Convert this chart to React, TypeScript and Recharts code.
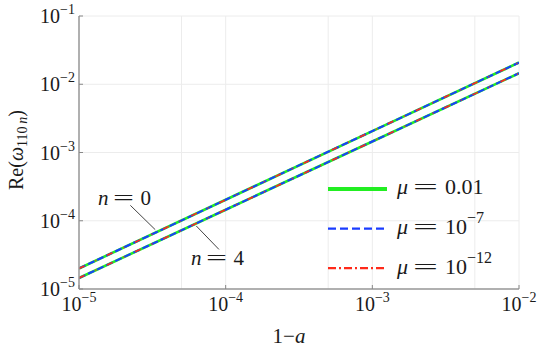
import React from 'react';
import {
  LineChart,
  Line,
  XAxis,
  YAxis,
  CartesianGrid,
  ReferenceLine,
} from 'recharts';

const FONT = '"Liberation Serif", "DejaVu Serif", serif';

// 1 - a (log axis)
const xValues = [1e-5, 1e-4, 1e-3, 1e-2];
const xTicks = [1e-5, 1e-4, 1e-3, 1e-2];
const yTicks = [1e-5, 1e-4, 1e-3, 1e-2, 1e-1];
const minorXGrid = [5e-5, 5e-4, 5e-3];

// Re(omega_110n), n = 0 and n = 4, per mu
const muA_n0 = [2.0e-5, 2.03e-4, 2.06e-3, 2.08e-2];
const muA_n4 = [1.45e-5, 1.45e-4, 1.45e-3, 1.45e-2];
const muB_n0 = [2.0e-5, 2.03e-4, 2.06e-3, 2.08e-2];
const muB_n4 = [1.45e-5, 1.45e-4, 1.45e-3, 1.45e-2];
const muC_n0 = [2.0e-5, 2.03e-4, 2.06e-3, 2.08e-2];
const muC_n4 = [1.45e-5, 1.45e-4, 1.45e-3, 1.45e-2];

// leader lines for the n labels (data coords)
const leaderN0 = [{ x: 2.24e-5, y: 1.68e-4 }, { x: 3.31e-5, y: 7.4e-5 }];
const leaderN4 = [{ x: 6.3e-5, y: 8.4e-5 }, { x: 9.0e-5, y: 3.8e-5 }];

const data = xValues.map((x, i) => ({
  x,
  a0: muA_n0[i],
  a4: muA_n4[i],
  b0: muB_n0[i],
  b4: muB_n4[i],
  c0: muC_n0[i],
  c4: muC_n4[i],
}));

const sup = (v: number) => '\u2212' + Math.abs(Math.round(Math.log10(v)));

const XTick = ({ x, y, payload }: any) => (
  <g>
    <line x1={x} x2={x} y1={y} y2={y - 4} stroke="#888" />
    <text x={x} y={y + 22} textAnchor="middle" style={{ fontFamily: FONT }} fontSize={20} fill="#1a1a1a">
      10
      <tspan dy={-9} fontSize={14}>{sup(payload.value)}</tspan>
    </text>
  </g>
);

const YTick = ({ x, y, payload }: any) => (
  <g>
    <line x1={x} x2={x + 4} y1={y} y2={y} stroke="#888" />
    <text x={x - 4} y={y + 7} textAnchor="end" style={{ fontFamily: FONT }} fontSize={20} fill="#1a1a1a">
      10
      <tspan dy={-9} fontSize={14}>{sup(payload.value)}</tspan>
    </text>
  </g>
);

const legendItems = [
  { label: '0.01', exp: '', color: '#22ee22', width: 4, dash: undefined },
  { label: '10', exp: '\u22127', color: '#1a3cff', width: 2.2, dash: '8 4' },
  { label: '10', exp: '\u221212', color: '#ff2a1a', width: 2.2, dash: '8 3 2 3' },
];

// "n = k" style label with a wide equals sign
const EqLabel = ({ x, y, sym, val, size, eqW }: any) => (
  <text x={x} y={y} fontSize={size} fill="#1a1a1a">
    <tspan fontStyle="italic">{sym}</tspan>
    <tspan x={x + size * 0.72} textLength={eqW} lengthAdjust="spacingAndGlyphs">=</tspan>
    <tspan x={x + size * 0.72 + eqW + size * 0.3}>{val}</tspan>
  </text>
);

export default function App() {
  return (
    <div style={{ position: 'absolute', left: 0, top: 0, width: 545, height: 352, background: '#fff', fontFamily: FONT }}>
      <LineChart width={545} height={352} data={data} margin={{ top: 16, right: 26, left: 0, bottom: 0 }}>
        <CartesianGrid stroke="#ececec" strokeWidth={1} />
        {minorXGrid.map((v) => (
          <ReferenceLine key={v} x={v} stroke="#ececec" strokeWidth={1} />
        ))}
        <XAxis
          dataKey="x"
          type="number"
          scale="log"
          domain={[1e-5, 1e-2]}
          ticks={xTicks}
          allowDataOverflow
          height={63}
          tickSize={0}
          tickMargin={0}
          tick={<XTick />}
          stroke="#999"
          strokeWidth={1.5}
        />
        <XAxis xAxisId="top" orientation="top" dataKey="x" type="number" scale="log" domain={[1e-5, 1e-2]} height={0} tick={false} tickLine={false} stroke="#b5b5b5" strokeWidth={2} />
        <YAxis
          type="number"
          scale="log"
          domain={[1e-5, 1e-1]}
          ticks={yTicks}
          allowDataOverflow
          width={79}
          tickSize={0}
          tickMargin={0}
          tick={<YTick />}
          stroke="#999"
          strokeWidth={1.5}
        />
        <YAxis yAxisId="right" orientation="right" type="number" scale="log" domain={[1e-5, 1e-1]} width={0} tick={false} tickLine={false} stroke="#808080" strokeWidth={1.5} />
        <ReferenceLine segment={leaderN0} stroke="#444" strokeWidth={1} />
        <ReferenceLine segment={leaderN4} stroke="#444" strokeWidth={1} />
        <Line dataKey="a0" stroke="#22ee22" strokeWidth={2.6} dot={false} isAnimationActive={false} />
        <Line dataKey="a4" stroke="#22ee22" strokeWidth={2.6} dot={false} isAnimationActive={false} />
        <Line dataKey="b0" stroke="#1a3cff" strokeWidth={2} strokeDasharray="7 3" dot={false} isAnimationActive={false} />
        <Line dataKey="b4" stroke="#1a3cff" strokeWidth={2} strokeDasharray="7 3" dot={false} isAnimationActive={false} />
        <Line dataKey="c0" stroke="#ff2a1a" strokeWidth={1.6} strokeDasharray="6 12 1 12" dot={false} isAnimationActive={false} />
        <Line dataKey="c4" stroke="#ff2a1a" strokeWidth={1.6} strokeDasharray="6 12 1 12" dot={false} isAnimationActive={false} />
      </LineChart>
      <svg width={545} height={352} style={{ position: 'absolute', left: 0, top: 0, pointerEvents: 'none', fontFamily: FONT }}>
        <text transform="rotate(-90)" x={-150} y={23} textAnchor="middle" fontSize={20} fill="#1a1a1a">
          Re(<tspan fontStyle="italic">{'\u03c9'}</tspan>
          <tspan dy={4} fontSize={14}>110</tspan>
          <tspan fontSize={14} fontStyle="italic">{'\u2009n'}</tspan>
          <tspan dy={-4}>)</tspan>
        </text>
        <text x={289} y={343} textAnchor="middle" fontSize={21} fill="#1a1a1a">
          1{'\u2212'}<tspan fontStyle="italic">a</tspan>
        </text>
        <EqLabel x={98} y={205} sym="n" val="0" size={21} eqW={21} />
        <EqLabel x={191} y={265} sym="n" val="4" size={21} eqW={21} />
        {legendItems.map((it, i) => {
          const cy = 189 + i * 39.6;
          const base = 193.5 + i * 40;
          return (
            <g key={i}>
              <line x1={328} x2={387} y1={cy} y2={cy} stroke={it.color} strokeWidth={it.width} strokeDasharray={it.dash} />
              <text x={397} y={base} fontSize={22} fill="#1a1a1a">
                <tspan fontStyle="italic">{'\u03bc'}</tspan>
                <tspan x={413} textLength={25} lengthAdjust="spacingAndGlyphs">=</tspan>
                <tspan x={445}>{it.label}</tspan>
                {it.exp && <tspan dy={-11} fontSize={16}>{it.exp}</tspan>}
              </text>
            </g>
          );
        })}
      </svg>
    </div>
  );
}
